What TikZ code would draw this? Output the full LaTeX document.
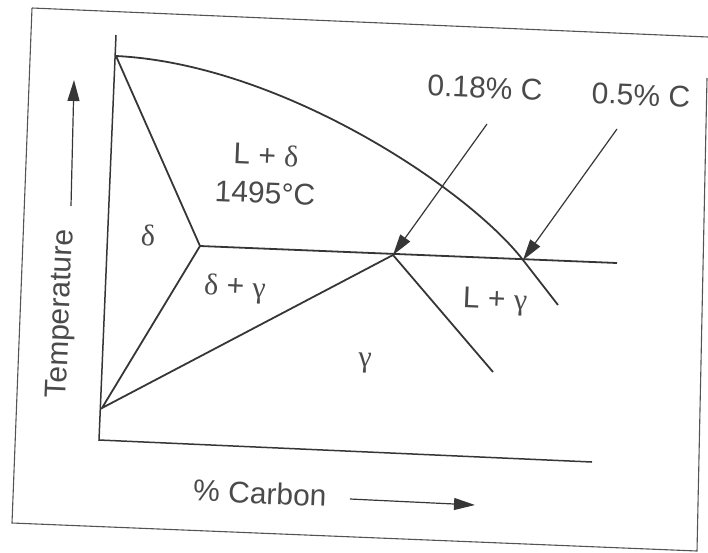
\documentclass[tikz,border=0pt]{standalone}
\usepackage{fontspec}
\setmainfont{Liberation Sans}
\newfontfamily\greekfont{Liberation Serif}
\usetikzlibrary{arrows.meta}
\definecolor{inkGrey}{HTML}{363636}
\definecolor{textGrey}{HTML}{4a4a4a}

\begin{document}
\begin{tikzpicture}[x=1pt,y=-1pt,
  every node/.style={font=\fontsize{30}{36}\selectfont,text=textGrey,inner sep=0pt,rotate=-2.4},
  frame/.style={draw=inkGrey!85,line width=1.1pt},
  axis/.style={draw=inkGrey,line width=1.5pt},
  phase/.style={draw=inkGrey,line width=1.8pt},
  e/.style={-{Triangle[length=21pt,width=12pt]},line width=1.2pt,color=inkGrey},
]
\useasboundingbox (0,0) rectangle (708,552);

% frame of the scanned figure
\coordinate (f1) at (32,8);
\coordinate (f2) at (708,37);
\coordinate (f3) at (707,78);
\coordinate (f4) at (697,551);
\coordinate (f5) at (12,523);
\draw[frame] (f1) -- (f2);
\draw[frame] (f3) -- (f4) -- (f5) -- (f1);

% axes
\coordinate (ytop) at (116,35);
\coordinate (orig) at (99,440);
\coordinate (xend) at (592,462);
\draw[axis] (ytop) -- (orig) -- (xend);

% phase boundaries
\coordinate (melt)   at (116,56);
\coordinate (peri)   at (200,246);
\coordinate (fan)    at (102,408);
\coordinate (p18)    at (393,255);
\coordinate (p50)    at (523,260);
\coordinate (liqend) at (558,305);
\coordinate (hend)   at (617,263);
\coordinate (solend) at (493,372);

\draw[phase] (melt) .. controls (281,64) and (468,189) .. (p50) -- (liqend);
\draw[phase] (melt) -- (peri) -- (fan) -- (p18) -- (solend);
\draw[phase] (peri) -- (hend);

% composition markers
\node (c18) at (485,88) {0.18\% C};
\node (c50) at (641,95) {0.5\% C};
\coordinate (a18) at (487,124);
\coordinate (a50) at (617,129);
\draw[e] (a18) -- (p18);
\draw[e] (a50) -- (p50);

% phase fields
\node (ld) at (266,155) {L + {\greekfont δ}};
\node (tp) at (265,193) {1495°C};
\node (d)  at (148,235) {\greekfont δ};
\node (dg) at (235,289) {{\greekfont δ} + {\greekfont γ}};
\node (g)  at (365,363) {\greekfont γ};
\node (lg) at (495,302) {L + {\greekfont γ}};

% axis labels
\node[rotate=90] (temp) at (62,314) {Temperature};
\coordinate (tbase) at (71,206);
\coordinate (ttip)  at (74,80);
\draw[e] (tbase) -- (ttip);

\node (carb) at (260,493) {\% Carbon};
\coordinate (cbase) at (350,499);
\coordinate (ctip)  at (475,505);
\draw[e] (cbase) -- (ctip);
\end{tikzpicture}
\end{document}
